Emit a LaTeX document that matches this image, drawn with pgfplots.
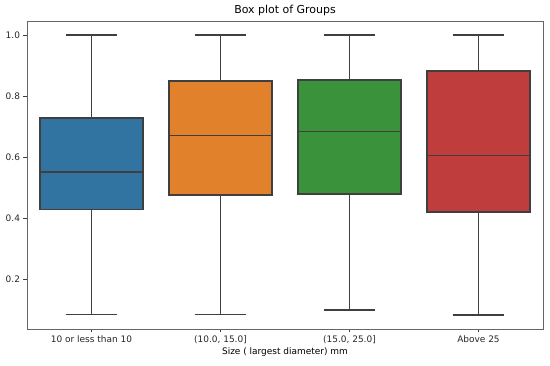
\documentclass[border=0pt]{standalone}
\usepackage{fontspec}
\setmainfont{DejaVu Sans}
\usepackage{pgfplots}
\pgfplotsset{compat=1.18}
\usepgfplotslibrary{statistics}
\definecolor{c1}{HTML}{3274A1}
\definecolor{c2}{HTML}{E1812C}
\definecolor{c3}{HTML}{3A923A}
\definecolor{c4}{HTML}{C03D3E}
\definecolor{edge}{HTML}{3F3F3F}
\pgfplotsset{
  bx/.style={draw=edge, line width=1.6bp},
  boxplot/draw/median/.code={%
    \draw[draw=edge, line width=1.6bp]
      (boxplot box cs:\pgfplotsboxplotvalue{median},0) --
      (boxplot box cs:\pgfplotsboxplotvalue{median},1);},
  boxplot/draw/lower whisker/.code={%
    \draw[draw=edge, line width=1.6bp]
      (boxplot box cs:\pgfplotsboxplotvalue{lower quartile},0.5) --
      (boxplot box cs:\pgfplotsboxplotvalue{lower whisker},0.5)
      (boxplot whisker cs:\pgfplotsboxplotvalue{lower whisker},0) --
      (boxplot whisker cs:\pgfplotsboxplotvalue{lower whisker},1);},
  boxplot/draw/upper whisker/.code={%
    \draw[draw=edge, line width=1.6bp]
      (boxplot box cs:\pgfplotsboxplotvalue{upper quartile},0.5) --
      (boxplot box cs:\pgfplotsboxplotvalue{upper whisker},0.5)
      (boxplot whisker cs:\pgfplotsboxplotvalue{upper whisker},0) --
      (boxplot whisker cs:\pgfplotsboxplotvalue{upper whisker},1);},
}
\begin{document}
\begin{tikzpicture}
\begin{axis}[
  at={(27bp,37bp)}, anchor=south west,
  scale only axis, width=516bp, height=308bp,
  xmin=-0.5, xmax=3.5, ymin=0.036, ymax=1.046,
  xtick={0,1,2,3},
  xticklabels={10 or less than 10,{(10.0, 15.0]},{(15.0, 25.0]},Above 25},
  ytick={0.2,0.4,0.6,0.8,1.0},
  yticklabel style={/pgf/number format/.cd,fixed,fixed zerofill,precision=1},
  /pgf/number format/assume math mode=true,
  tick align=outside, tick pos=left,
  major tick length=3.5bp,
  every tick/.style={edge, line width=0.8bp},
  axis line style={edge!80, line width=0.8bp},
  ticklabel style={font=\fontsize{9}{11}\selectfont, text=black!85},
  title={Box plot of Groups},
  title style={font=\fontsize{11}{13}\selectfont, yshift=-4bp},
  xlabel={Size ( largest diameter) mm},
  xlabel style={font=\fontsize{9}{11}\selectfont, yshift=3bp},
  boxplot/draw direction=y,
  boxplot/box extend=0.8,
  boxplot/whisker extend=0.4,
]
\addplot[bx, fill=c1, boxplot prepared={draw position=0, lower whisker=0.084, lower quartile=0.428, median=0.55, upper quartile=0.728, upper whisker=1.0}] coordinates {};
\addplot[bx, fill=c2, boxplot prepared={draw position=1, lower whisker=0.084, lower quartile=0.476, median=0.67, upper quartile=0.849, upper whisker=1.0}] coordinates {};
\addplot[bx, fill=c3, boxplot prepared={draw position=2, lower whisker=0.099, lower quartile=0.478, median=0.683, upper quartile=0.852, upper whisker=1.0}] coordinates {};
\addplot[bx, fill=c4, boxplot prepared={draw position=3, lower whisker=0.082, lower quartile=0.419, median=0.605, upper quartile=0.883, upper whisker=1.0}] coordinates {};
\end{axis}
\pgfresetboundingbox
\path (0,0) rectangle (550bp,366bp);
\end{tikzpicture}
\end{document}
